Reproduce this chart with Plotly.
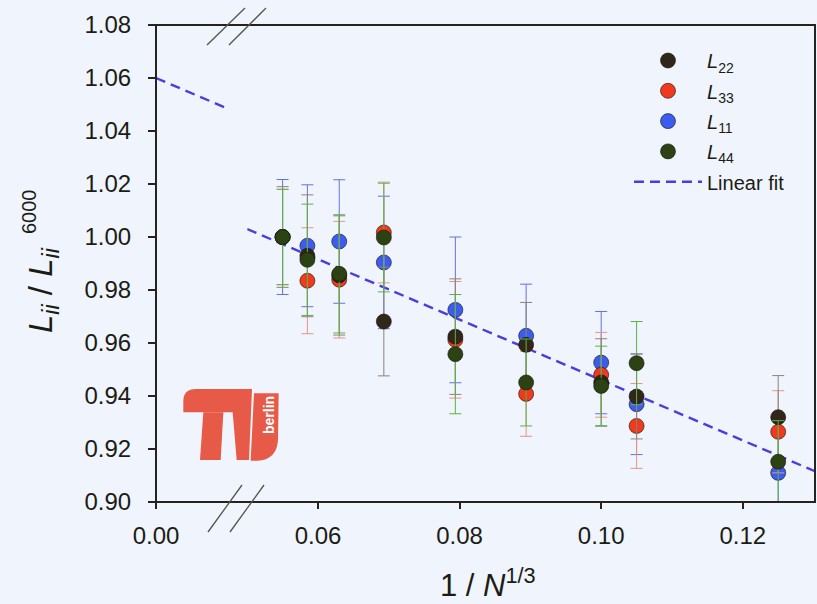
import plotly.graph_objects as go

# ---------------- data ----------------
inv_n = [0.0550, 0.0585, 0.0630, 0.0693, 0.0794, 0.0894, 0.1000, 0.1050, 0.1250]

L22 = [1.000, 0.9929, 0.9855, 0.9681, 0.9624, 0.9593, 0.9451, 0.9398, 0.9320]
L22_err = [0.019, 0.023, 0.0225, 0.0205, 0.0218, 0.016, 0.0165, 0.016, 0.0157]

L33 = [1.000, 0.9835, 0.9839, 1.0017, 0.9612, 0.9408, 0.9480, 0.9287, 0.9265]
L33_err = [0.018, 0.020, 0.022, 0.019, 0.022, 0.016, 0.016, 0.016, 0.0155]

L11 = [1.000, 0.9967, 0.9983, 0.9904, 0.9725, 0.9627, 0.9526, 0.9369, 0.9110]
L11_err = [0.0217, 0.023, 0.0233, 0.025, 0.0275, 0.0195, 0.0193, 0.019, 0.0157]

L44 = [1.000, 0.9914, 0.9861, 0.9998, 0.9558, 0.9451, 0.9438, 0.9524, 0.9152]
L44_err = [0.018, 0.021, 0.0223, 0.0205, 0.0225, 0.0164, 0.015, 0.0157, 0.0155]

fit_x_left = [0.0, 0.010]
fit_y_left = [1.060, 1.0486]
fit_x_right = [0.050, 0.1302]
fit_y_right = [1.003, 0.9116]

x_ticks_left = [0.0]
x_ticks_right = [0.06, 0.08, 0.10, 0.12]
y_range = [0.90, 1.08]

# ---------------- layout geometry ----------------
W, H = 817, 604
ML, MR, MT, MB = 156, 2, 25, 102
PW, PH = W - ML - MR, H - MT - MB
AX = "#25241c"
FONT = "Liberation Sans, Arial, sans-serif"
TXT = "#1c1c14"


def px(x):
    return (x - ML) / PW


def py(y):
    return (H - MB - y) / PH


seg1_end = 226.8
seg2_start = 247.2

fig = go.Figure()

FIT = dict(color="#4a3ddc", width=2.4, dash="10px,6px")
fig.add_trace(go.Scatter(x=fit_x_left, y=fit_y_left, mode="lines", xaxis="x", yaxis="y",
                         line=FIT, showlegend=False, hoverinfo="skip"))
fig.add_trace(go.Scatter(x=fit_x_right, y=fit_y_right, mode="lines", xaxis="x2", yaxis="y",
                         name="Linear fit", legendrank=5, legendgroup="g5", line=FIT))

series = [
    ("11", L11, L11_err, "#3c5cf0", "#6272e0", 3),
    ("33", L33, L33_err, "#f03a1e", "#e89484", 2),
    ("22", L22, L22_err, "#30261a", "#8d8472", 1),
    ("44", L44, L44_err, "#2c4212", "#58b444", 4),
]
for sub, vals, errs, col, ecol, rank in series:
    fig.add_trace(go.Scatter(
        x=inv_n, y=vals, mode="markers", xaxis="x2", yaxis="y",
        name=f"<i>L</i><sub>{sub}</sub>",
        legendrank=rank, legendgroup=f"g{rank}",
        marker=dict(size=15, color=col, line=dict(color="rgba(20,20,10,0.6)", width=1)),
        error_y=dict(type="data", array=errs, visible=True, color=ecol, thickness=1, width=6),
    ))

shapes = []
shapes.append(dict(type="rect", xref="paper", yref="paper", x0=0, x1=1, y0=0, y1=1,
                   line=dict(color=AX, width=2), layer="above"))
for (x0, y0, x1, y1) in [(207, 45, 245, 8), (229, 45, 266, 8),
                         (208, 532, 242, 485), (230, 532, 264, 485)]:
    shapes.append(dict(type="line", xref="paper", yref="paper",
                       x0=px(x0), y0=py(y0), x1=px(x1), y1=py(y1),
                       line=dict(color="#55554c", width=1.3), layer="above"))


def path(cmds):
    out = []
    for c in cmds:
        if isinstance(c, str):
            out.append(c)
        else:
            zx, zy = c
            ox, oy = 170 + zx / 3, 375 + zy / 3
            out.append(f"{px(ox):.5f},{py(oy):.5f}")
    return " ".join(out)


LOGO = "#e85a48"
pA = ["M", (40, 112), "L", (40, 78), "Q", (40, 42), (78, 42), "L", (246, 42), "L", (237, 255),
      "L", (200, 255), "L", (188, 112), "Z"]
pB = ["M", (100, 112), "L", (160, 112), "L", (152, 255), "L", (90, 255), "Z"]
pC = ["M", (252, 55), "L", (326, 55), "L", (324, 195), "Q", (320, 255), (262, 257),
      "L", (242, 257), "Z"]
for p in (pA, pB, pC):
    shapes.append(dict(type="path", xref="paper", yref="paper", path=path(p),
                       fillcolor=LOGO, line=dict(width=0), layer="above"))

annotations = [
    dict(xref="paper", yref="paper", x=px(269), y=py(415), xanchor="center", yanchor="middle",
         text="<b>berlin</b>", textangle=-90, showarrow=False,
         font=dict(family=FONT, size=14, color="white")),
    dict(xref="paper", yref="paper", x=px(20), y=py(290), xanchor="left", yanchor="middle",
         text="<i>L</i><sub><i>ii</i></sub> / <i>L</i><sub><i>ii</i></sub>",
         textangle=-90, showarrow=False, font=dict(family=FONT, size=33, color=TXT)),
    dict(xref="paper", yref="paper", x=px(16), y=py(212), xanchor="left", yanchor="middle",
         text="6000", textangle=-90, showarrow=False, font=dict(family=FONT, size=20, color=TXT)),
    dict(xref="paper", yref="paper", x=px(488), y=py(605), xanchor="center", yanchor="bottom",
         text="1 / <i>N</i><sup>1/3</sup>",
         showarrow=False, font=dict(family=FONT, size=31, color=TXT)),
]

tickfont = dict(family=FONT, size=24, color=TXT)
common_x = dict(showline=False, showgrid=False, zeroline=False, ticks="outside", ticklen=6,
                tickwidth=1.5, tickcolor=AX, tickfont=tickfont, ticklabelstandoff=6)

fig.update_layout(
    width=W, height=H,
    margin=dict(l=ML, r=MR, t=MT, b=MB, pad=0),
    paper_bgcolor="#eff4fd", plot_bgcolor="#eff4fd",
    showlegend=True,
    legend=dict(x=px(629), y=py(41), xanchor="left", yanchor="top",
                bgcolor="rgba(0,0,0,0)", font=dict(family=FONT, size=20, color=TXT),
                itemwidth=68, tracegroupgap=1.3),
    xaxis=dict(domain=[0, px(seg1_end)], range=[0, 0.010], tickvals=x_ticks_left,
               tickformat=".2f", anchor="y", **common_x),
    xaxis2=dict(domain=[px(seg2_start), 1], range=[0.05, 0.1302], tickvals=x_ticks_right,
                tickformat=".2f", anchor="y", **common_x),
    yaxis=dict(range=y_range, dtick=0.02, tickformat=".2f", anchor="x", showline=False,
               showgrid=False, zeroline=False, ticks="outside", ticklen=7, tickwidth=1.5,
               tickcolor=AX, tickfont=tickfont, ticklabelstandoff=12),
    shapes=shapes,
    annotations=annotations,
)

fig.write_html("out.html", config={"displayModeBar": False},
               post_script="document.body.style.margin='0';document.body.style.overflow='hidden';")
